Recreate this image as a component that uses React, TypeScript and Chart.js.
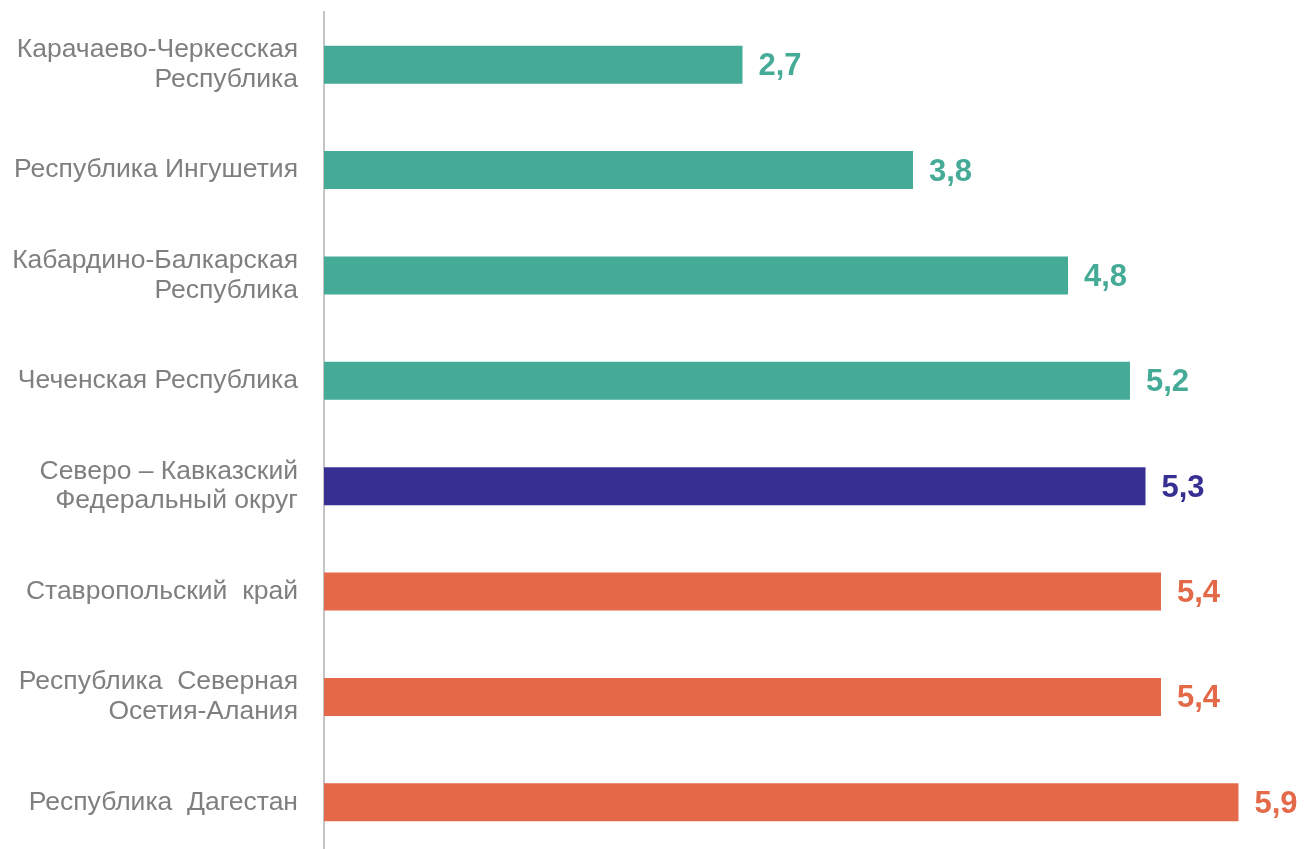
import React, { useEffect, useRef } from "react";
import { Chart, registerables } from "chart.js";

Chart.register(...registerables);

const categories: string[][] = [
  ["Карачаево-Черкесская", "Республика"],
  ["Республика Ингушетия"],
  ["Кабардино-Балкарская", "Республика"],
  ["Чеченская Республика"],
  ["Северо – Кавказский", "Федеральный округ"],
  ["Ставропольский  край"],
  ["Республика  Северная", "Осетия-Алания"],
  ["Республика  Дагестан"],
];
const values: number[] = [2.7, 3.8, 4.8, 5.2, 5.3, 5.4, 5.4, 5.9];
const groups: string[] = ["teal", "teal", "teal", "teal", "blue", "orange", "orange", "orange"];
const palette: Record<string, string> = { teal: "#45AB97", blue: "#373092", orange: "#E36948" };

const FONT = "'Liberation Sans', Arial, sans-serif";

const labelPlugin = {
  id: "valueLabels",
  afterDatasetsDraw(chart: any) {
    const ctx = chart.ctx;
    const meta = chart.getDatasetMeta(0);
    ctx.save();
    ctx.font = "bold 31px " + FONT;
    ctx.textAlign = "left";
    ctx.textBaseline = "middle";
    meta.data.forEach((bar: any, i: number) => {
      ctx.fillStyle = palette[groups[i]];
      ctx.fillText(values[i].toFixed(1).replace(".", ","), bar.x + 16, bar.y + 2);
    });
    ctx.restore();
  },
};

export default function App() {
  const ref = useRef<HTMLCanvasElement | null>(null);
  useEffect(() => {
    if (!ref.current) return;
    const chart = new Chart(ref.current, {
      type: "bar",
      data: {
        labels: categories,
        datasets: [
          {
            data: values,
            backgroundColor: groups.map((g) => palette[g]),
            categoryPercentage: 1,
            barPercentage: 0.36,
          },
        ],
      },
      options: {
        indexAxis: "y",
        animation: false,
        responsive: false,
        layout: { padding: { top: 12, bottom: 5, right: 21, left: 0 } },
        plugins: { legend: { display: false }, tooltip: { enabled: false } },
        scales: {
          x: { display: false, min: 0, max: 6.2 },
          y: {
            afterFit: (scale: any) => {
              scale.width = 324;
              scale.paddingTop = 0;
              scale.paddingBottom = 0;
            },
            grid: { display: true, drawOnChartArea: false, drawTicks: false },
            border: { display: true, color: "#C4C4C4", width: 2 },
            ticks: {
              padding: 26,
              color: "#7F7F7F",
              font: { family: FONT, size: 26.5, lineHeight: 1.13 },
            },
          },
        },
      },
      plugins: [labelPlugin],
    });
    return () => chart.destroy();
  }, []);
  return (
    <div style={{ position: "fixed", left: 0, top: 0, width: 1306, height: 849, overflow: "hidden", background: "#fff" }}>
      <canvas ref={ref} width={1306} height={860} style={{ width: 1306, height: 860, display: "block" }} />
    </div>
  );
}
